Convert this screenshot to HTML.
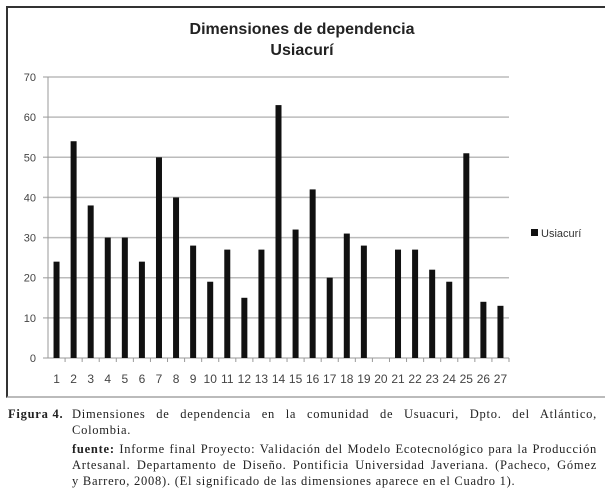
<!DOCTYPE html>
<html><head><meta charset="utf-8"><style>
body{margin:0;width:605px;height:493px;background:#fff;overflow:hidden;position:relative;font-family:"Liberation Sans",sans-serif}
#frame{position:absolute;left:6px;top:6px;width:610px;height:392px;border-left:2px solid #333;border-top:2px solid #333;border-bottom:2px solid #bbb;box-sizing:border-box}
.cap{position:absolute;font-family:"Liberation Serif",serif;font-size:12.5px;letter-spacing:0.75px;color:#222;line-height:16px;white-space:nowrap}
.j{text-align:justify;text-align-last:justify;white-space:normal}
</style></head><body>
<div id="frame"></div>
<svg width="605" height="400" style="position:absolute;left:0;top:0">
<text x="302" y="34" text-anchor="middle" font-size="16" font-weight="bold" fill="#222">Dimensiones de dependencia</text>
<text x="302" y="55" text-anchor="middle" font-size="16" font-weight="bold" fill="#222">Usiacurí</text>
<g id="grid"></g><g id="bars"></g><g id="axes"></g>
<rect x="531" y="229" width="7" height="7" fill="#111"/>
<text x="541" y="237" font-size="11" fill="#333">Usiacurí</text>
</svg>
<div class="cap" style="left:8px;top:406px"><b>Figura 4.</b></div>
<div>
<div class="cap j" style="left:72px;top:406px;width:525px">Dimensiones de dependencia en la comunidad de Usuacuri, Dpto. del Atlántico,</div>
<div class="cap" style="left:72px;top:422px">Colombia.</div>
</div>
<div>
<div class="cap j" style="left:72px;top:441px;width:525px"><b>fuente:</b> Informe final Proyecto: Validación del Modelo Ecotecnológico para la Producción</div>
<div class="cap j" style="left:72px;top:457px;width:525px">Artesanal. Departamento de Diseño. Pontificia Universidad Javeriana. (Pacheco, Gómez</div>
<div class="cap" style="left:72px;top:473px">y Barrero, 2008). (El significado de las dimensiones aparece en el Cuadro 1).</div>
</div>
<script>
const categories=[1,2,3,4,5,6,7,8,9,10,11,12,13,14,15,16,17,18,19,20,21,22,23,24,25,26,27];
const values=[24,54,38,30,30,24,50,40,28,19,27,15,27,63,32,42,20,31,28,0,27,27,22,19,51,14,13];
const yTicks=[0,10,20,30,40,50,60,70];
const NS="http://www.w3.org/2000/svg";
const x0=48,x1=509,yb=358,yt=77,ymax=70;
const y=v=>yb-(v/ymax)*(yb-yt);
const step=(x1-x0)/categories.length;
const xc=i=>x0+step*(i+0.5);
const grid=document.getElementById('grid'),bars=document.getElementById('bars'),axes=document.getElementById('axes');
function mk(tag,attrs,parent){const e=document.createElementNS(NS,tag);for(const k in attrs)e.setAttribute(k,attrs[k]);parent.appendChild(e);return e;}
yTicks.forEach(t=>{
 const l=mk('line',{x1:x0-5,x2:x1,y1:y(t),y2:y(t),stroke:t===0?'#999':'#bbb','stroke-width':t===0?1:1.5},grid);
 
 
 const tx=mk('text',{x:36,y:y(t)+4,'text-anchor':'end','font-size':'11',fill:'#444'},axes);
 tx.textContent=t;
 
 
});
const ax=mk('line',{x1:x0,x2:x0,y1:yt,y2:yb,stroke:'#999'},axes);


categories.forEach((c,i)=>{
 const v=values[i];
 if(v>0){const r=mk('rect',{x:xc(i)-3,y:y(v),width:6,height:yb-y(v),fill:'#111'},bars);
 
 }
 mk('line',{x1:x0+step*(i+1),x2:x0+step*(i+1),y1:yb,y2:yb+4,stroke:'#999'},axes);
 const t=mk('text',{x:xc(i),y:383,'text-anchor':'middle','font-size':'12',fill:'#444'},axes);
 t.textContent=c;
 
 
});
</script>
</body></html>
